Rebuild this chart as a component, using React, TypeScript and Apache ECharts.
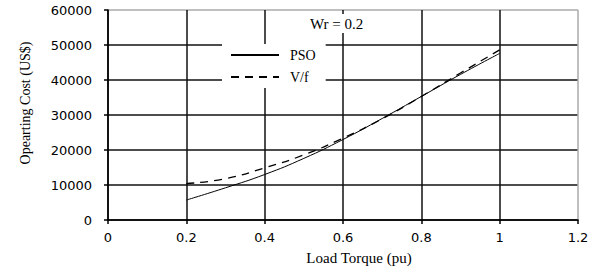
import React, { useEffect, useRef } from "react";
import * as echarts from "echarts";

const loadTorque = [0.2, 0.3, 0.4, 0.5, 0.6, 0.7, 0.8, 0.9, 1.0];
const psoCost = [5700, 9200, 13000, 17600, 23000, 29000, 35300, 41600, 47600];
const vfCost = [10400, 11800, 14900, 18600, 23400, 28900, 35300, 42000, 48600];
const seriesNames = ["PSO", "V/f"];
const annotation = "Wr = 0.2";
const xTitle = "Load Torque (pu)";
const yTitle = "Opearting Cost (US$)";

const serif = "Liberation Serif, Times New Roman, serif";
const sans = "DejaVu Sans, Verdana, sans-serif";

export default function App() {
  const ref = useRef<HTMLDivElement>(null);
  useEffect(() => {
    if (!ref.current) return;
    const chart = echarts.init(ref.current, undefined, { renderer: "svg" });
    const gridColors = ["#111", "#111", "#111", "#111", "#111", "#111", "#aaa"];
    chart.setOption({
      animation: false,
      backgroundColor: "#fff",
      grid: { left: 108, right: 18, top: 10, bottom: 48, outerBoundsMode: "none" },
      title: {
        text: annotation,
        left: 306,
        top: 14,
        padding: [2, 4, 2, 4],
        backgroundColor: "#fff",
        textStyle: { fontFamily: serif, fontSize: 15, fontWeight: "normal", color: "#000" },
      },
      legend: {
        data: seriesNames,
        orient: "vertical",
        left: 222,
        top: 44,
        padding: [4, 10, 4, 8],
        backgroundColor: "#fff",
        itemWidth: 48,
        itemHeight: 10,
        itemGap: 8,
        itemStyle: { opacity: 0, borderWidth: 0 },
        textStyle: { fontFamily: serif, fontSize: 14, color: "#000", padding: [0, 0, 0, 6] },
      },
      xAxis: {
        type: "value",
        min: 0,
        max: 1.2,
        interval: 0.2,
        name: xTitle,
        nameLocation: "middle",
        nameGap: 30,
        nameTextStyle: { fontFamily: serif, fontSize: 15, color: "#000", padding: [0, 0, 0, 32] },
        axisLine: { show: true, onZero: false, lineStyle: { color: "#000", width: 1.5 } },
        axisTick: { show: true, length: 4, lineStyle: { color: "#000", width: 1.5 } },
        axisLabel: { margin: 11, fontFamily: sans, fontSize: 13, color: "#000" },
        splitLine: { show: true, lineStyle: { color: gridColors, width: 1.5 } },
      },
      yAxis: {
        type: "value",
        min: 0,
        max: 60000,
        interval: 10000,
        name: yTitle,
        nameLocation: "middle",
        nameGap: 76,
        nameTextStyle: { fontFamily: serif, fontSize: 14, color: "#000", padding: [0, 0, 0, 24] },
        axisLine: { show: true, lineStyle: { color: "#000", width: 1.5 } },
        axisTick: { show: true, length: 4, lineStyle: { color: "#000", width: 1.5 } },
        axisLabel: {
          margin: 16,
          fontFamily: sans,
          fontSize: 13,
          color: "#000",
          formatter: (v: number) => String(v),
        },
        splitLine: { show: true, lineStyle: { color: gridColors, width: 1.5 } },
      },
      series: [
        {
          name: seriesNames[0],
          type: "line",
          data: loadTorque.map((x, i) => [x, psoCost[i]]),
          smooth: true,
          symbol: "none",
          lineStyle: { color: "#000", width: 1 },
          itemStyle: { color: "#000" },
          z: 5,
        },
        {
          name: seriesNames[1],
          type: "line",
          data: loadTorque.map((x, i) => [x, vfCost[i]]),
          smooth: true,
          symbol: "none",
          lineStyle: { color: "#000", width: 1.3, type: [8, 6] },
          itemStyle: { color: "#000" },
          z: 6,
        },
      ],
    });
    return () => chart.dispose();
  }, []);
  return (
    <div
      ref={ref}
      style={{ position: "fixed", left: 0, top: 0, width: 596, height: 268, background: "#fff" }}
    />
  );
}
